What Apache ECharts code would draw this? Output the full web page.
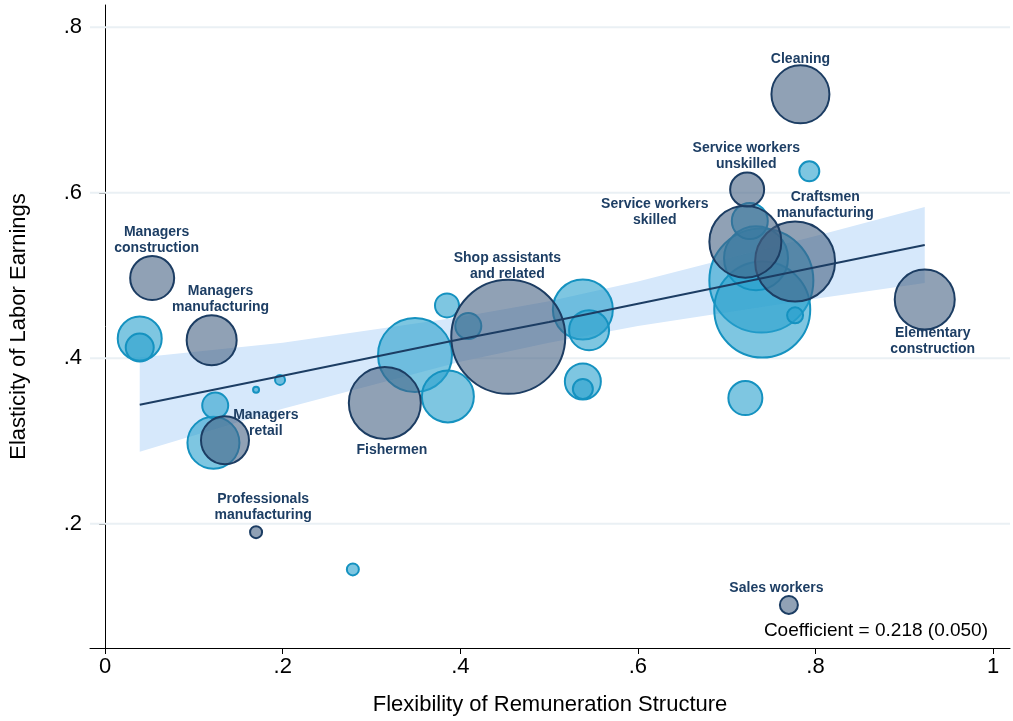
<!DOCTYPE html>
<html>
<head>
<meta charset="utf-8">
<script src="https://cdn.jsdelivr.net/npm/echarts@6/dist/echarts.min.js"></script>
<style>html,body{margin:0;padding:0;background:#fff}#c{width:1013px;height:721px}</style>
</head>
<body>
<div id="c"></div>
<script>
// occupations highlighted (dark) : [x, y, weight]
const darkPts = [
  [0.783, 0.719, 841], [0.723, 0.604, 289], [0.721, 0.541, 1296], [0.777, 0.517, 1600],
  [0.923, 0.471, 900], [0.454, 0.426, 3249], [0.315, 0.346, 1296], [0.053, 0.497, 484],
  [0.120, 0.422, 625], [0.135, 0.301, 576], [0.170, 0.190, 36], [0.770, 0.102, 81]
];
// other occupations (light)
const lightPts = [
  [0.039, 0.424, 484], [0.039, 0.413, 196], [0.124, 0.343, 169], [0.122, 0.298, 676],
  [0.170, 0.362, 9], [0.197, 0.374, 25], [0.279, 0.145, 36], [0.349, 0.404, 1369],
  [0.386, 0.354, 676], [0.385, 0.464, 144], [0.409, 0.439, 169], [0.538, 0.459, 900],
  [0.545, 0.434, 400], [0.538, 0.372, 324], [0.538, 0.363, 100], [0.721, 0.352, 289],
  [0.793, 0.626, 100], [0.726, 0.566, 324], [0.740, 0.459, 2304], [0.739, 0.494, 2704],
  [0.733, 0.521, 1024], [0.777, 0.452, 64]
];
// label anchors: [x, y, text]
const labels = [
  [0.783, 0.761, 'Cleaning'], [0.722, 0.644, 'Service workers\nunskilled'],
  [0.619, 0.577, 'Service workers\nskilled'], [0.811, 0.585, 'Craftsmen\nmanufacturing'],
  [0.932, 0.421, 'Elementary\nconstruction'], [0.453, 0.512, 'Shop assistants\nand related'],
  [0.323, 0.289, 'Fishermen'], [0.058, 0.543, 'Managers\nconstruction'],
  [0.130, 0.471, 'Managers\nmanufacturing'], [0.181, 0.322, 'Managers\nretail'],
  [0.178, 0.220, 'Professionals\nmanufacturing'], [0.756, 0.122, 'Sales workers']
];
// fitted line and 95% band
const fitX = [0.039, 0.2, 0.4, 0.5, 0.6, 0.8, 0.923];
const fitY = [0.344, 0.379, 0.423, 0.444, 0.466, 0.510, 0.537];
const bandLo = [0.287, 0.339, 0.396, 0.419, 0.439, 0.472, 0.491];
const bandHi = [0.401, 0.419, 0.450, 0.469, 0.493, 0.548, 0.583];
const tickX = [0, 0.2, 0.4, 0.6, 0.8, 1];
const tickY = [0.2, 0.4, 0.6, 0.8];

const fmt = v => v === 0 ? '0' : v === 1 ? '1' : String(Math.round(v * 10) / 10).replace(/^0/, '');
const size = d => 2 * Math.sqrt(d[2]);
const byWeight = arr => arr.slice().sort((a, b) => b[2] - a[2]);

const chart = echarts.init(document.getElementById('c'));
chart.setOption({
  animation: false,
  grid: { left: 90, right: 3, top: 5, bottom: 73 },
  xAxis: {
    type: 'value', min: -0.017, max: 1.019,
    name: 'Flexibility of Remuneration Structure', nameLocation: 'middle', nameGap: 46,
    nameTextStyle: { fontSize: 22, color: '#000', fontFamily: 'Liberation Sans' },
    axisLine: { lineStyle: { color: '#000' } },
    axisTick: { length: 6, lineStyle: { color: '#000' }, customValues: tickX },
    axisLabel: { fontSize: 22, color: '#000', fontFamily: 'Liberation Sans', customValues: tickX, formatter: fmt },
    splitLine: { show: false }
  },
  yAxis: {
    type: 'value', min: 0.05, max: 0.827,
    name: 'Elasticity of Labor Earnings', nameLocation: 'middle', nameGap: 60,
    nameTextStyle: { fontSize: 22, color: '#000', fontFamily: 'Liberation Sans' },
    axisLine: { show: true, lineStyle: { color: '#000' } },
    axisTick: { show: true, length: 6, lineStyle: { color: '#000' }, customValues: tickY },
    axisLabel: { fontSize: 22, color: '#000', fontFamily: 'Liberation Sans', customValues: tickY, formatter: fmt },
    splitLine: { show: false }
  },
  series: [
    {
      type: 'custom', silent: true, z: 1,
      data: tickY.map(v => [v]),
      renderItem: (params, api) => {
        const a = api.coord([-0.017, api.value(0)]);
        const b = api.coord([1.019, api.value(0)]);
        return { type: 'line', shape: { x1: a[0], y1: a[1], x2: b[0], y2: b[1] },
          style: { stroke: '#eaf0f4', lineWidth: 2 } };
      }
    },
    {
      type: 'custom', silent: true, z: 2,
      data: [0],
      renderItem: (params, api) => {
        const pts = fitX.map((x, i) => api.coord([x, bandHi[i]]))
          .concat(fitX.map((x, i) => api.coord([x, bandLo[i]])).reverse());
        return { type: 'polygon', shape: { points: pts }, style: { fill: '#d6e8fb' } };
      }
    },
    {
      type: 'scatter', z: 3,
      data: byWeight(lightPts), symbolSize: size,
      itemStyle: { color: 'rgba(40,160,205,0.6)', borderColor: '#1592c0', borderWidth: 2, opacity: 1 }
    },
    {
      type: 'scatter', z: 4,
      data: byWeight(darkPts), symbolSize: size,
      itemStyle: { color: 'rgba(70,98,132,0.6)', borderColor: '#1c3d63', borderWidth: 2, opacity: 1 }
    },
    {
      type: 'line', z: 5, symbol: 'none',
      data: fitX.map((x, i) => [x, fitY[i]]),
      lineStyle: { color: '#1c3d63', width: 2 }
    },
    {
      type: 'custom', z: 10, silent: true,
      data: labels,
      renderItem: (params, api) => {
        const p = api.coord([api.value(0), api.value(1)]);
        return {
          type: 'text', x: p[0], y: p[1],
          style: {
            text: labels[params.dataIndex][2], align: 'center', verticalAlign: 'middle',
            fontSize: 14, fontWeight: 'bold', fill: '#1d3e64', fontFamily: 'Liberation Sans', lineHeight: 16
          }
        };
      }
    }
  ],
  graphic: [{
    type: 'text', right: 25, top: 621,
    style: { text: 'Coefficient = 0.218 (0.050)', fontSize: 19, fill: '#000', fontFamily: 'Liberation Sans' }
  }]
});
</script>
</body>
</html>
